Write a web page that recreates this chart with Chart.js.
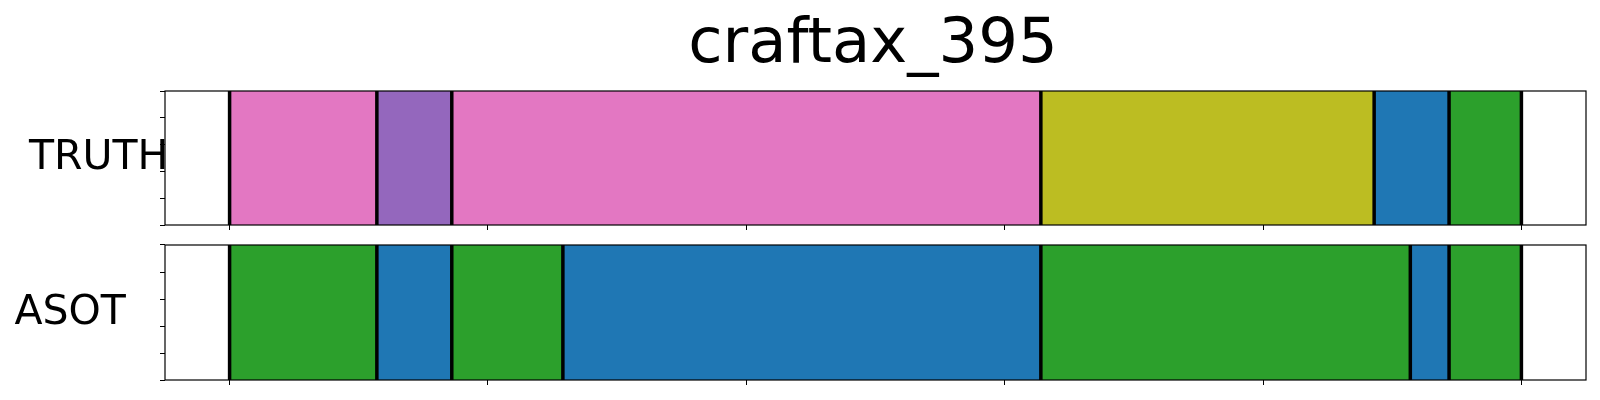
<!DOCTYPE html>
<html>
<head>
<meta charset="utf-8">
<script src="https://cdn.jsdelivr.net/npm/chart.js@4.4.1/dist/chart.umd.min.js"></script>
<style>
  body { margin: 0; background: #fff; }
  #wrap { position: relative; width: 1600px; height: 400px; }
  canvas { position: absolute; left: 0; }
</style>
</head>
<body>
<div id="wrap">
  <canvas id="truth_chart" width="1600" height="235" style="top:0"></canvas>
  <canvas id="asot_chart" width="1600" height="165" style="top:235px"></canvas>
</div>
<script>
const plot_title = 'craftax_395';
const num_frames = 500;
const x_ticks = [0, 100, 200, 300, 400, 500];
const y_ticks = [0, 0.25, 0.5, 0.75, 1];

// segment boundaries (frames) + action class of each segment
const truth_bounds = [0, 57, 86, 314, 443, 472, 500];
const truth_classes = [6, 4, 6, 8, 0, 2];
const asot_bounds = [0, 57, 86, 129, 314, 457, 472, 500];
const asot_classes = [2, 0, 2, 0, 2, 0, 2];

// matplotlib tab10
const tab10 = ['#1f77b4', '#ff7f0e', '#2ca02c', '#d62728', '#9467bd',
               '#8c564b', '#e377c2', '#7f7f7f', '#bcbd22', '#17becf'];

Chart.defaults.font.family = '"DejaVu Sans", sans-serif';

// black lines on every segment boundary
const boundaryPlugin = {
    id: 'boundaries',
    afterDatasetsDraw(chart, args, opts){
        const ctx = chart.ctx;
        const area = chart.chartArea;
        ctx.save();
        ctx.strokeStyle = '#000';
        ctx.lineWidth = 3.5;
        opts.bounds.forEach(function(b){
            let px = chart.scales.x.getPixelForValue(b);
            ctx.beginPath();
            ctx.moveTo(px, area.top);
            ctx.lineTo(px, area.bottom);
            ctx.stroke();
        });
        ctx.restore();
    }
};

// box around the axes + row name on the left
const framePlugin = {
    id: 'frame',
    afterDraw(chart, args, opts){
        const ctx = chart.ctx;
        const area = chart.chartArea;
        ctx.save();
        ctx.strokeStyle = '#000';
        ctx.lineWidth = 1.2;
        ctx.strokeRect(area.left, area.top, area.right - area.left, area.bottom - area.top);

        ctx.fillStyle = '#000';
        ctx.font = '41px "DejaVu Sans"';
        ctx.textBaseline = 'alphabetic';
        ctx.textAlign = 'left';
        ctx.fillText(opts.label, opts.labelX, (area.top + area.bottom) / 2 + 11);
        ctx.restore();
    }
};

function tickSetter(values){
    return function(scale){
        scale.ticks = values.map(v => ({value: v}));
    };
}

function makeChart(canvas_id, row_name, bounds, classes, extra){
    let datasets = [];
    for (let i = 0; i < classes.length; i++){
        datasets.push({
            data: [[bounds[i], bounds[i + 1]]],
            backgroundColor: tab10[classes[i]],
            borderWidth: 0,
            barPercentage: 1,
            categoryPercentage: 1,
            grouped: false
        });
    }

    const tick_grid = {
        drawOnChartArea: false,
        drawTicks: true,
        tickLength: 5,
        color: '#000',
        lineWidth: 1
    };

    return new Chart(document.getElementById(canvas_id).getContext('2d'), {
        type: 'bar',
        data: {labels: [row_name], datasets: datasets},
        plugins: [boundaryPlugin, framePlugin],
        options: {
            indexAxis: 'y',
            responsive: false,
            animation: false,
            layout: {padding: extra.padding},
            scales: {
                x: {
                    type: 'linear',
                    min: -num_frames * 0.05,
                    max: num_frames * 1.05,
                    afterBuildTicks: tickSetter(x_ticks),
                    ticks: {display: false},
                    grid: tick_grid,
                    border: {display: false}
                },
                y: {display: false},
                y2: {
                    type: 'linear',
                    position: 'left',
                    min: 0,
                    max: 1,
                    afterBuildTicks: tickSetter(y_ticks),
                    ticks: {display: false},
                    grid: tick_grid,
                    border: {display: false}
                }
            },
            plugins: {
                legend: {display: false},
                tooltip: {enabled: false},
                title: extra.title || {display: false},
                boundaries: {bounds: bounds},
                frame: {label: row_name, labelX: extra.labelX}
            }
        }
    });
}

makeChart('truth_chart', 'TRUTH', truth_bounds, truth_classes, {
    padding: {left: 160, right: 14, top: 0, bottom: 5},
    labelX: 29,
    title: {
        display: true,
        text: plot_title,
        color: '#000',
        font: {size: 62.5, weight: 'normal'},
        padding: {top: 8, bottom: 8}
    }
});

makeChart('asot_chart', 'ASOT', asot_bounds, asot_classes, {
    padding: {left: 160, right: 14, top: 10, bottom: 15},
    labelX: 14.5
});
</script>
</body>
</html>
